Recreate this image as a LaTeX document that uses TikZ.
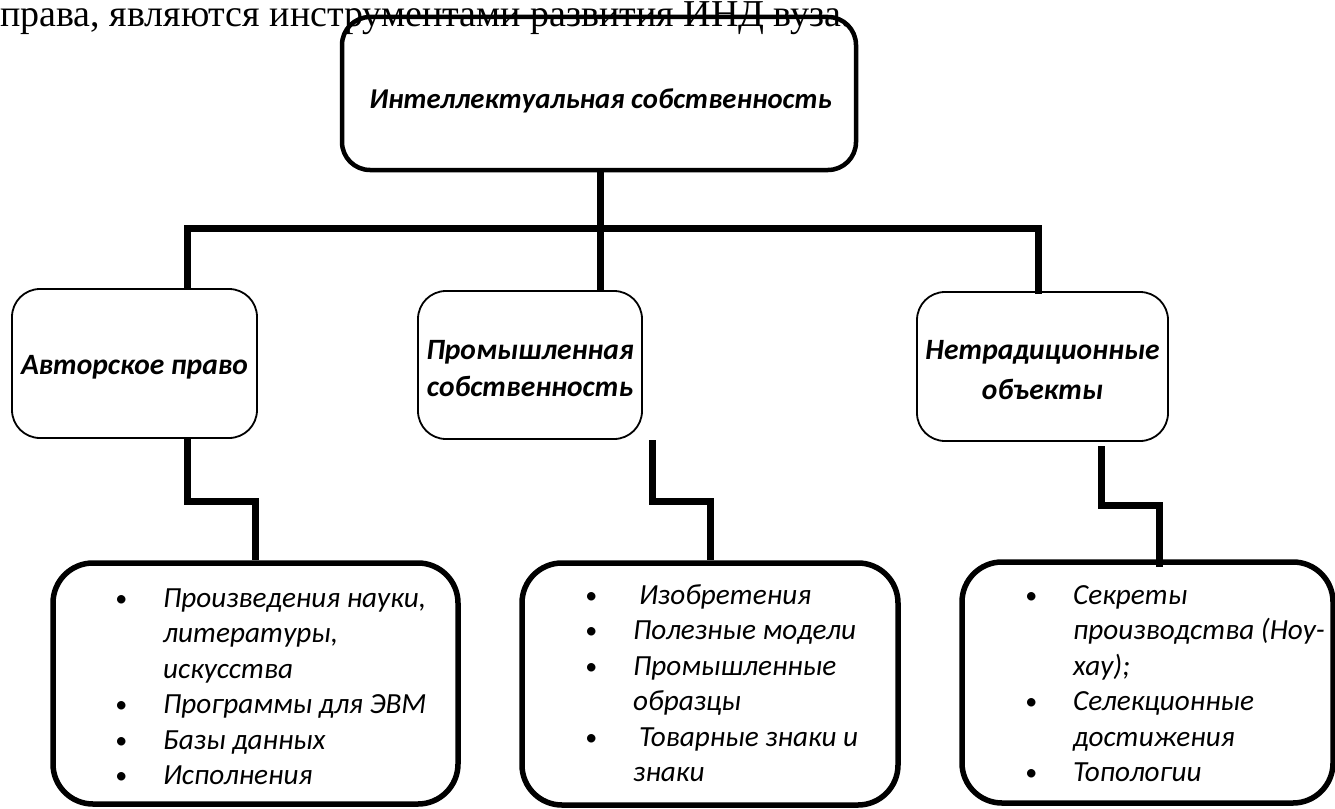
\documentclass[tikz,border=0pt]{standalone}
\usepackage{fontspec}
\setmainfont{Carlito}
\newfontfamily\tnr{Liberation Serif}
\usetikzlibrary{calc}
\newcommand\bl{\llap{\makebox[48pt][l]{\fontsize{24}{24}\selectfont\raisebox{1pt}{•}}}}
\newcommand\dn[2]{\raisebox{-#1}[\height][\depth]{#2}}
\begin{document}
\begin{tikzpicture}[x=1pt,y=-1pt,
  conn/.style={line width=7pt, line join=miter},
  topbox/.style={draw, line width=4.5pt, rounded corners=28pt, inner sep=0pt, font=\fontsize{28.7}{35}\selectfont\bfseries\itshape},
  midbox/.style={draw, line width=1.8pt, rounded corners=28pt, inner sep=0pt, align=center, font=\fontsize{29.5}{37}\selectfont\bfseries\itshape},
  lowbox/.style={draw, line width=5.5pt, rounded corners=40pt, inner sep=0pt},
  list/.style={anchor=north west, inner sep=0pt, align=left, font=\fontsize{29.2}{35.5}\selectfont\itshape}]
\useasboundingbox (0,0) rectangle (1335,808);
\node[anchor=base west, inner sep=0pt, font=\tnr\fontsize{38}{40}\selectfont] (intro) at (0,27) {права, являются инструментами развития ИНД вуза.};

\node[topbox, minimum width=514pt, minimum height=153pt] (top) at (599,93.5) {\dn{7pt}{\hspace{3pt}Интеллектуальная собственность}};

\node[midbox, minimum width=245pt, minimum height=149pt] (b1) at (134.5,363.5) {\dn{4pt}{Авторское право}};
\node[midbox, minimum width=224pt, minimum height=148pt] (b2) at (530,365) {\dn{4pt}{Промышленная}\\\dn{4pt}{собственность}};
\node[midbox, minimum width=251pt, minimum height=149pt, font=\fontsize{29.5}{40}\selectfont\bfseries\itshape] (b3) at (1042.5,366.5) {\dn{4pt}{Нетрадиционные}\\\dn{4pt}{объекты}};

\node[lowbox, minimum width=405pt, minimum height=241pt] (c1) at (255.5,683.5) {};
\node[lowbox, minimum width=376pt, minimum height=242pt] (c2) at (710,684) {};
\node[lowbox, minimum width=371pt, minimum height=241pt] (c3) at (1147.5,682.5) {};

\node[list] (t1) at (163,582) {\strut\bl Произведения науки,\\литературы,\\искусства\\\bl Программы для ЭВМ\\\bl Базы данных\\\bl Исполнения};
\node[list] (t2) at (633,579) {\strut\bl\hspace{6pt}Изобретения\\\bl Полезные модели\\\bl Промышленные\\образцы\\\bl\hspace{6pt}Товарные знаки и\\знаки};
\node[list] (t3) at (1073,579) {\strut\bl Секреты\\производства (Ноу-\\хау);\\\bl Селекционные\\достижения\\\bl Топологии};

\coordinate (j) at (600,228);
\coordinate (bl) at (187,228);
\coordinate (br) at (1038,228);
\coordinate (k1) at (255,501);
\coordinate (m2) at (652,440);
\coordinate (k2) at (710,501);
\coordinate (m3) at (1101,446);
\coordinate (k3) at (1159,505);
\coordinate (e3) at (1159,567);

\draw[conn] (top.south -| j) -- (j);
\draw[conn] (b1.north -| bl) -- (bl) -- (br) -- ([yshift=-3pt]b3.north -| br);
\draw[conn] (b2.north -| j) -- (j);
\draw[conn] (b1.south -| bl) |- (k1) -- (c1.north -| k1);
\draw[conn] (m2) |- (k2) -- (c2.north -| k2);
\draw[conn] (m3) |- (k3) -- (e3);
\end{tikzpicture}
\end{document}
